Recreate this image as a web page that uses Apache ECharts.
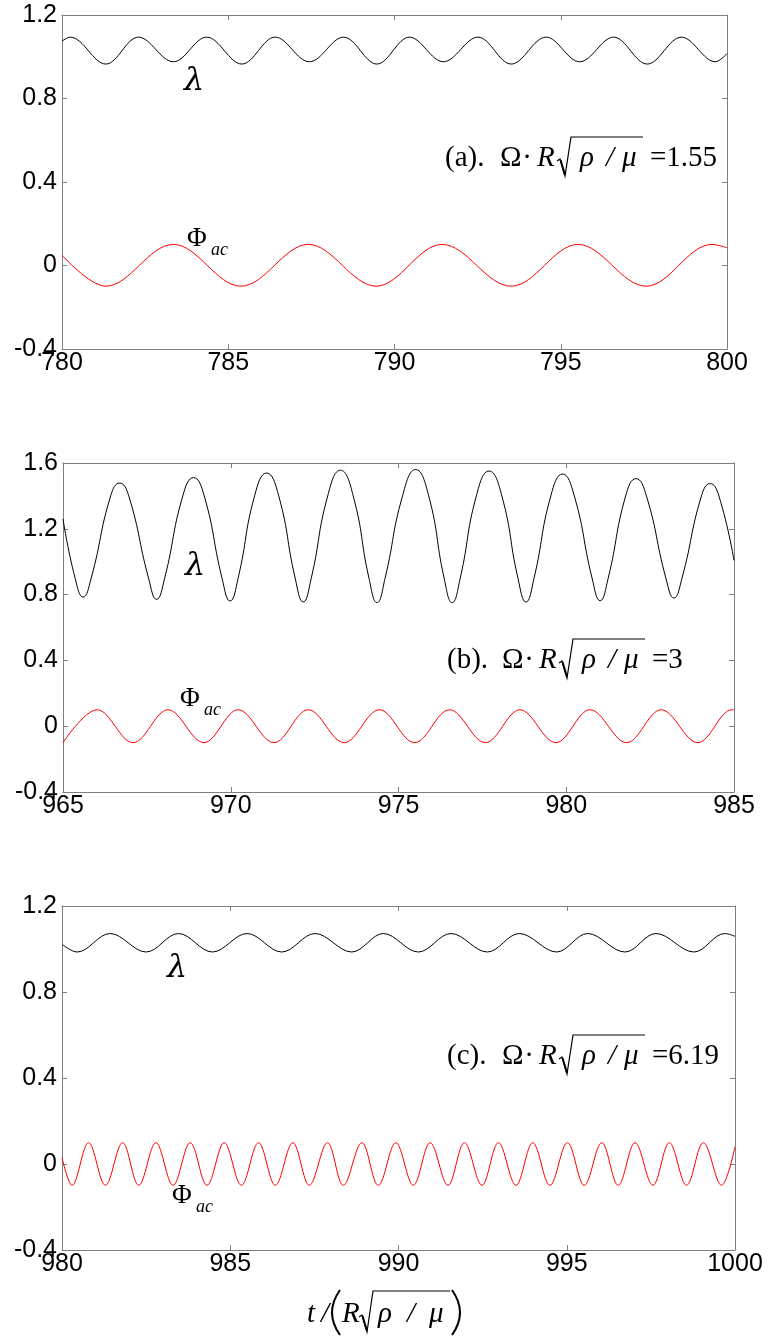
<!DOCTYPE html>
<html><head><meta charset="utf-8">
<script src="https://cdn.jsdelivr.net/npm/echarts@6/dist/echarts.min.js"></script>
<style>html,body{margin:0;padding:0;background:#fff}#c{width:770px;height:1336px}</style>
</head><body><div id="c"></div>
<script>
// ---------- Panel (a): Omega = 1.55 ----------
const xRangeA = [780, 800];
const lamA_t = [780, 780.25, 781.32, 782.30, 783.35, 784.35, 785.41, 786.41, 787.44, 788.47, 789.47, 790.45, 791.47, 792.51, 793.51, 794.56, 795.57, 796.59, 797.60, 798.63, 799.65, 800];
const lamA_v = [1.075, 1.094, 0.965, 1.094, 0.976, 1.094, 0.965, 1.094, 0.976, 1.094, 0.965, 1.094, 0.976, 1.094, 0.965, 1.094, 0.976, 1.094, 0.965, 1.094, 0.976, 1.015];
const phiA_t = [780, 781.32, 783.35, 785.38, 787.41, 789.45, 791.43, 793.51, 795.52, 797.57, 799.55, 800];
const phiA_v = [0.05, -0.099, 0.101, -0.099, 0.101, -0.099, 0.101, -0.099, 0.101, -0.099, 0.101, 0.085];

// ---------- Panel (b): Omega = 3 ----------
const xRangeB = [965, 985];
const lamB_t = [965, 965.36,
  965.60, 965.84, 966.42, 966.69, 966.96, 967.55,
  967.79, 968.03, 968.57, 968.89, 969.21, 969.74,
  969.98, 970.22, 970.71, 971.07, 971.43, 971.92,
  972.16, 972.40, 972.89, 973.27, 973.65, 974.12,
  974.36, 974.60, 975.12, 975.51, 975.90, 976.36,
  976.60, 976.84, 977.32, 977.70, 978.08, 978.56,
  978.80, 979.04, 979.54, 979.89, 980.24, 980.77,
  981.01, 981.25, 981.77, 982.08, 982.39, 982.97,
  983.21, 983.45, 984.03, 984.29, 984.55,
  985];
const lamB_v = [1.26, 0.9,
  0.785, 0.9, 1.4, 1.478, 1.4, 0.9,
  0.771, 0.9, 1.4, 1.511, 1.4, 0.9,
  0.761, 0.9, 1.4, 1.539, 1.4, 0.9,
  0.755, 0.9, 1.4, 1.556, 1.4, 0.9,
  0.751, 0.9, 1.4, 1.560, 1.4, 0.9,
  0.751, 0.9, 1.4, 1.551, 1.4, 0.9,
  0.755, 0.9, 1.4, 1.533, 1.4, 0.9,
  0.763, 0.9, 1.4, 1.505, 1.4, 0.9,
  0.779, 0.9, 1.4, 1.475, 1.4,
  1.008];
const phiB_t = [965, 966.02, 967.09, 968.13, 969.20, 970.22, 971.29, 972.31, 973.38, 974.43, 975.48, 976.52, 977.59, 978.62, 979.69, 980.71, 981.80, 982.83, 983.92, 984.94, 985];
const phiB_v = [-0.1, 0.1, -0.1, 0.1, -0.1, 0.1, -0.1, 0.1, -0.1, 0.1, -0.1, 0.1, -0.1, 0.1, -0.1, 0.1, -0.1, 0.1, -0.1, 0.1, 0.099];

// ---------- Panel (c): Omega = 6.19 ----------
const xRangeC = [980, 1000];
const lamC_t = [980, 980.45, 981.43, 982.50, 983.46, 984.47, 985.50, 986.53, 987.52, 988.61, 989.55, 990.59, 991.56, 992.64, 993.59, 994.70, 995.62, 996.73, 997.65, 998.78, 999.70, 1000];
const lamC_v = [1.022, 0.986, 1.072, 0.986, 1.072, 0.986, 1.072, 0.986, 1.072, 0.986, 1.072, 0.986, 1.072, 0.986, 1.072, 0.986, 1.072, 0.986, 1.072, 0.986, 1.072, 1.059];
const phiC_t = [980,
  980.30, 980.79, 981.29, 981.80, 982.28, 982.79, 983.30, 983.81, 984.31, 984.82,
  985.33, 985.84, 986.34, 986.86, 987.35, 987.89, 988.36, 988.91, 989.40, 989.92,
  990.44, 990.94, 991.47, 991.96, 992.48, 992.97, 993.49, 993.99, 994.50, 995.02,
  995.52, 996.04, 996.53, 997.03, 997.56, 998.05, 998.56, 999.06, 999.60,
  1000];
const phiC_v = [0.03,
  -0.099, 0.099, -0.099, 0.099, -0.099, 0.099, -0.099, 0.099, -0.099, 0.099,
  -0.099, 0.099, -0.099, 0.099, -0.099, 0.099, -0.099, 0.099, -0.099, 0.099,
  -0.099, 0.099, -0.099, 0.099, -0.099, 0.099, -0.099, 0.099, -0.099, 0.099,
  -0.099, 0.099, -0.099, 0.099, -0.099, 0.099, -0.099, 0.099, -0.099,
  0.08];

const yRangeA = [-0.4, 1.2], yRangeB = [-0.4, 1.6], yRangeC = [-0.4, 1.2];
const annotValues = ['1.55', '3', '6.19'];
const panelTags = ['a', 'b', 'c'];

// ---------- styling ----------
const FRAME = '#7f7f7f';
const SANS = 'Liberation Sans';
const SERIF = 'Liberation Serif';
const TICK_FS = 25;

function pairs(t, v) { return t.map((x, i) => [x, v[i]]); }

function xAx(gi, r, pos) {
  return {
    type: 'value', gridIndex: gi, min: r[0], max: r[1], interval: 5, position: pos,
    axisLine: { show: true, onZero: false, lineStyle: { color: FRAME, width: 1 } },
    axisTick: { show: true, inside: true, length: 5, lineStyle: { color: FRAME, width: 1 } },
    axisLabel: { show: pos === 'bottom', margin: 2, fontSize: TICK_FS, fontFamily: SANS, color: '#000',
      showMinLabel: true, showMaxLabel: true, hideOverlap: false,
      formatter: v => String(Math.round(v)) },
    splitLine: { show: false }
  };
}
function yAx(gi, r, pos) {
  return {
    type: 'value', gridIndex: gi, min: r[0], max: r[1], interval: 0.4, position: pos,
    axisLine: { show: true, onZero: false, lineStyle: { color: FRAME, width: 1 } },
    axisTick: { show: true, inside: true, length: 5, lineStyle: { color: FRAME, width: 1 } },
    axisLabel: { show: pos === 'left', margin: 5, fontSize: TICK_FS, fontFamily: SANS, color: '#000',
      showMinLabel: true, showMaxLabel: true, hideOverlap: false,
      formatter: v => (Math.abs(v) < 1e-9 ? '0' : String(Math.round(v * 10) / 10)) },
    splitLine: { show: false }
  };
}
function line(xi, t, v, color, smooth) {
  return {
    type: 'line', xAxisIndex: xi, yAxisIndex: xi, data: pairs(t, v),
    showSymbol: false, symbol: 'none', smooth: smooth, silent: true, animation: false,
    lineStyle: { color: color, width: 1 }, itemStyle: { color: color }
  };
}

// text helper: x = left (or per align), base = alphabetic baseline
function T(s, x, base, size, italic, align, family) {
  return {
    type: 'text', x: x, y: base - 0.34 * size, z: 100, silent: true,
    style: {
      text: s, font: (italic ? 'italic ' : '') + size + 'px "' + (family || SERIF) + '"', fill: '#000',
      align: align || 'left', verticalAlign: 'middle',
      textAlign: align || 'left', textVerticalAlign: 'middle'
    }
  };
}
function radical(x, base, x2, yTop) {
  return [{
    type: 'polyline', z: 100, silent: true,
    shape: { points: [[x, base - 7], [x + 3, base - 9], [x + 8, base + 8], [x + 14, yTop], [x2, yTop]] },
    style: { stroke: '#000', lineWidth: 1.2, fill: null }
  }, {
    type: 'line', z: 100, silent: true,
    shape: { x1: x + 3.5, y1: base - 8, x2: x + 8, y2: base + 7 },
    style: { stroke: '#000', lineWidth: 2 }
  }];
}
function paren(x, top, bottom, dir) {
  return {
    type: 'bezierCurve', z: 100, silent: true,
    shape: { x1: x, y1: top, x2: x, y2: bottom, cpx1: x - dir * 16, cpy1: (top + bottom) / 2 },
    style: { stroke: '#000', lineWidth: 2, fill: null }
  };
}
function annot(tag, val, x0, base) {
  const s = 29;
  return [
    T('(' + tag + ').', x0, base, s),
    T('\u03A9', x0 + 55, base, s),
    T('\u00B7', x0 + 82, base, s, false, 'center'),
    T('R', x0 + 92, base, s, true)
  ].concat(radical(x0 + 112, base, x0 + 198, base - 31), [
    T('\u03C1', x0 + 135, base, s, true),
    T('/', x0 + 161, base, s, true),
    T('\u03BC', x0 + 177, base, s, true),
    T('=' + val, x0 + 205, base, s)
  ]);
}
function lamLabel(x, base) { return T('\u03BB', x, base, 32, true, 'left', 'DejaVu Serif'); }
function phiLabel(x, base) { return [T('\u03A6', x, base, 27), T('ac', x + 24, base + 8, 18, true)]; }

const graphics = [].concat(
  annot(panelTags[0], annotValues[0], 445, 168),
  annot(panelTags[1], annotValues[1], 447, 670),
  annot(panelTags[2], annotValues[2], 447, 1066),
  [lamLabel(184, 93), lamLabel(185, 578), lamLabel(167, 980)],
  phiLabel(187, 248), phiLabel(180, 708), phiLabel(172, 1205),
  [
    T('t', 307, 1324, 29, true),
    T('/', 321, 1324, 29, true),
    paren(340, 1290, 1335, 1),
    T('R', 342, 1324, 29, true)
  ],
  radical(359, 1324, 450, 1291),
  [
    T('\u03C1', 378, 1324, 29, true),
    T('/', 407, 1324, 29, true),
    T('\u03BC', 429, 1324, 29, true),
    paren(452, 1290, 1335, -1)
  ]
);

const chart = echarts.init(document.getElementById('c'), null, { renderer: 'canvas' });
chart.setOption({
  animation: false,
  backgroundColor: '#fff',
  grid: [
    { left: 62, top: 15, width: 665, height: 334, containLabel: false, outerBoundsMode: 'none' },
    { left: 63, top: 463, width: 671, height: 329, containLabel: false, outerBoundsMode: 'none' },
    { left: 62, top: 906, width: 673, height: 344, containLabel: false, outerBoundsMode: 'none' }
  ],
  xAxis: [
    xAx(0, xRangeA, 'bottom'), xAx(0, xRangeA, 'top'),
    xAx(1, xRangeB, 'bottom'), xAx(1, xRangeB, 'top'),
    xAx(2, xRangeC, 'bottom'), xAx(2, xRangeC, 'top')
  ],
  yAxis: [
    yAx(0, yRangeA, 'left'), yAx(0, yRangeA, 'right'),
    yAx(1, yRangeB, 'left'), yAx(1, yRangeB, 'right'),
    yAx(2, yRangeC, 'left'), yAx(2, yRangeC, 'right')
  ],
  series: [
    line(0, lamA_t, lamA_v, '#000000', 0.36),
    line(0, phiA_t, phiA_v, '#ff0000', 0.36),
    line(2, lamB_t, lamB_v, '#000000', 0.5),
    line(2, phiB_t, phiB_v, '#ff0000', 0.36),
    line(4, lamC_t, lamC_v, '#000000', 0.36),
    line(4, phiC_t, phiC_v, '#ff0000', 0.36)
  ],
  graphic: graphics
});
</script></body></html>
